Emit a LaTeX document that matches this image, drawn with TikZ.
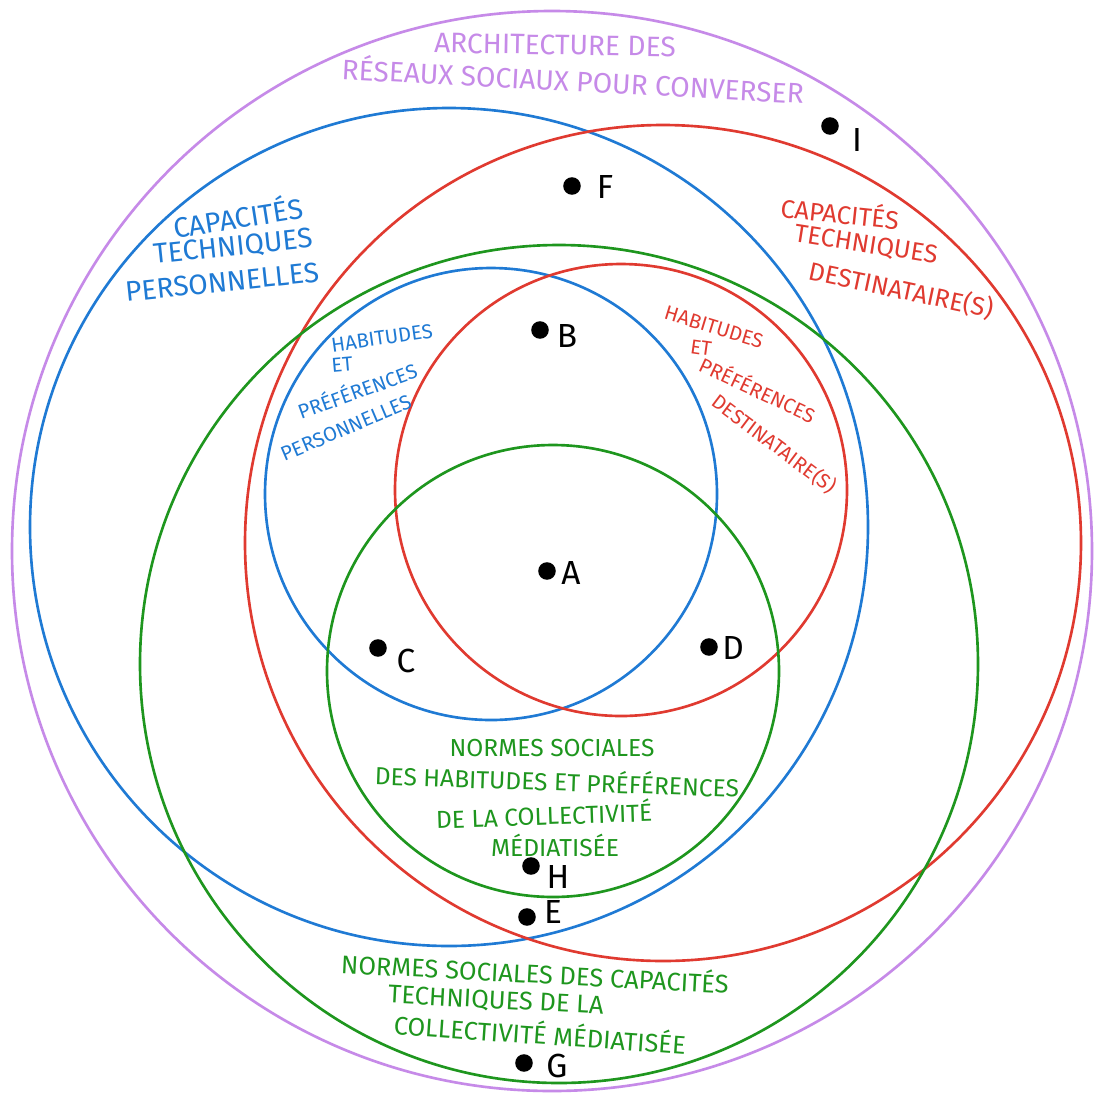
\documentclass[tikz,border=0pt]{standalone}
\usepackage{fontspec}
\setmainfont{Fira Sans}
\definecolor{cpurple}{HTML}{C68AE8}
\definecolor{cblue}{HTML}{1F7AD4}
\definecolor{cred}{HTML}{E03A30}
\definecolor{cgreen}{HTML}{1E961E}
\tikzset{
  ring/.style={line width=1.5pt},
  dot/.style={circle,fill=black,inner sep=0pt,minimum size=10pt},
  letter/.style={font=\fontsize{19}{19}\selectfont,text=black,inner sep=0pt},
  lab/.style={inner sep=0pt,align=center,font=\fontsize{16}{16}\selectfont},
  slab/.style={inner sep=0pt,align=center,font=\fontsize{11.5}{11.5}\selectfont},
  glab/.style={inner sep=0pt,align=center,font=\fontsize{14}{14}\selectfont,text=cgreen},
}
\begin{document}
\begin{tikzpicture}[x=0.02cm,y=-0.02cm]
\useasboundingbox (0,0) rectangle (1094,1100);
\fill[white] (0,0) rectangle (1094,1100);
% circles
\draw[ring,cpurple] (552,551) circle [radius=540];
\draw[ring,cblue] (449,527) circle [radius=419];
\draw[ring,cred] (663,543) circle [radius=418];
\draw[ring,cgreen] (559,664) circle [radius=419];
\draw[ring,cblue] (491,494) circle [radius=226];
\draw[ring,cred] (621,490) circle [radius=226];
\draw[ring,cgreen] (553,671) circle [radius=226];
% title
\node[lab,text=cpurple,rotate=-1] (t1) at (555,45) {ARCHITECTURE DES};
\node[lab,text=cpurple,rotate=-3] (t2) at (573,79) {RÉSEAUX SOCIAUX POUR CONVERSER};
% blue big
\node[lab,text=cblue,rotate=9] (bb1) at (238,216) {CAPACITÉS};
\node[lab,text=cblue,rotate=6] (bb2) at (233,247) {TECHNIQUES};
\node[lab,text=cblue,rotate=6] (bb3) at (222,282) {PERSONNELLES};
% red big
\node[lab,text=cred,rotate=-6,font=\fontsize{14.5}{14.5}\selectfont] (rb1) at (840,212) {CAPACITÉS};
\node[lab,text=cred,rotate=-9,font=\fontsize{14.5}{14.5}\selectfont] (rb2) at (866,245) {TECHNIQUES};
\node[lab,text=cred,rotate=-12,font=\fontsize{14.5}{14.5}\selectfont] (rb3) at (901,290) {DESTINATAIRE(S)};
% blue small
\node[slab,text=cblue,rotate=8] (bs1) at (382,338) {HABITUDES};
\node[slab,text=cblue,rotate=5] (bs2) at (342,365) {ET};
\node[slab,text=cblue,rotate=20] (bs3) at (357,390) {PRÉFÉRENCES};
\node[slab,text=cblue,rotate=23] (bs4) at (346,428) {PERSONNELLES};
% red small
\node[slab,text=cred,rotate=-17] (rs1) at (714,327) {HABITUDES};
\node[slab,text=cred,rotate=-8] (rs2) at (701,348) {ET};
\node[slab,text=cred,rotate=-25] (rs3) at (758,389) {PRÉFÉRENCES};
\node[slab,text=cred,rotate=-37] (rs4) at (774,444) {DESTINATAIRE(S)};
% green small
\node[glab] (gs1) at (552,748) {NORMES SOCIALES};
\node[glab,rotate=-2] (gs2) at (557,780) {DES HABITUDES ET PRÉFÉRENCES};
\node[glab,rotate=2] (gs3) at (544,814) {DE LA COLLECTIVITÉ};
\node[glab] (gs4) at (555,845) {MÉDIATISÉE};
% green big
\node[glab,font=\fontsize{14.5}{14.5}\selectfont,rotate=-3] (gb1) at (535,972) {NORMES SOCIALES DES CAPACITÉS};
\node[glab,font=\fontsize{14.5}{14.5}\selectfont,rotate=-3] (gb2) at (496,1001) {TECHNIQUES DE LA};
\node[glab,font=\fontsize{14.5}{14.5}\selectfont,rotate=-4] (gb3) at (540,1033) {COLLECTIVITÉ MÉDIATISÉE};
% dots
\node[dot] (dI) at (830,126) {};
\node[dot] (dF) at (572,186) {};
\node[dot] (dB) at (540,330) {};
\node[dot] (dA) at (547,571) {};
\node[dot] (dC) at (378,648) {};
\node[dot] (dD) at (709,647) {};
\node[dot] (dH) at (531,866) {};
\node[dot] (dE) at (527,917) {};
\node[dot] (dG) at (524,1063) {};
\node[letter] (lI) at (857,140) {I};
\node[letter] (lF) at (605,187) {F};
\node[letter] (lB) at (567,336) {B};
\node[letter] (lA) at (571,573) {A};
\node[letter] (lC) at (406,661) {C};
\node[letter] (lD) at (733,648) {D};
\node[letter] (lH) at (558,877) {H};
\node[letter] (lE) at (553,912) {E};
\node[letter] (lG) at (557,1066) {G};
\end{tikzpicture}
\end{document}
